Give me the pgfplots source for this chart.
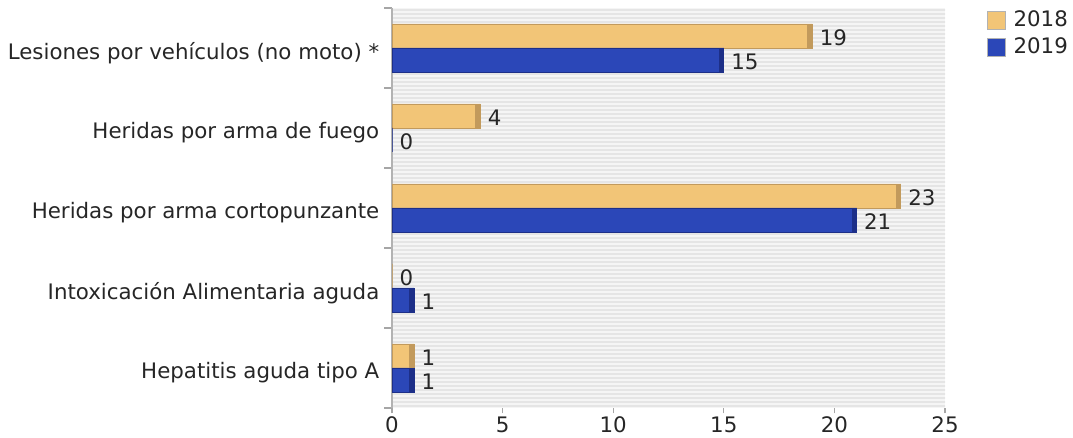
\documentclass[border=0pt]{standalone}
\usepackage{pgfplots}
\pgfplotsset{compat=1.18}
\usepackage{fontspec}
\setmainfont{DejaVu Sans}
\usetikzlibrary{patterns.meta}
\definecolor{cy}{HTML}{F2C577}
\definecolor{cyd}{HTML}{C29A5C}
\definecolor{cb}{HTML}{2B47B8}
\definecolor{cbd}{HTML}{1D2F88}
\begin{document}
\fontsize{16pt}{19pt}\selectfont
\begin{tikzpicture}[x=1pt,y=1pt]
\path[use as bounding box] (0,0) rectangle (804.75,328.5);
\begin{axis}[
  at={(294pt,22.5pt)}, anchor=south west,
  scale only axis, width=414.75pt, height=300pt,
  xmin=0, xmax=25, ymin=-0.5, ymax=4.5,
  /pgf/number format/assume math mode=true,
  font=\fontsize{16pt}{19pt}\selectfont,
  axis x line*=bottom, axis y line*=left,
  x axis line style={draw=none},
  y axis line style={draw=black!30, line width=2.2pt},
  xtick={0,5,10,15,20,25},
  xtick align=outside,
  major tick length=4pt,
  x tick style={draw=black!35, line width=0.8pt},
  xticklabel style={yshift=3pt, text=black!85},
  ytick={0,1,2,3,4},
  yticklabels={Hepatitis aguda tipo A, Intoxicación Alimentaria aguda, Heridas por arma cortopunzante, Heridas por arma de fuego, Lesiones por vehículos (no moto) *},
  y tick style={draw=none},
  yticklabel style={xshift=0pt, yshift=-3.75pt, text=black!85},
  minor ytick={-0.5,0.5,1.5,2.5,3.5,4.5},
  minor y tick style={draw=black!35, line width=0.8pt},
  minor tick length=6pt,
  ytick align=outside,
  axis background/.style={fill=black!4, postaction={pattern={Lines[angle=0,distance=3pt,line width=1.1pt]}, pattern color=black!10}},
  bar width=18pt,
  legend style={at={(1.076,1.0)}, anchor=north west, draw=none, fill=none, inner sep=0pt,
    row sep=2pt, font=\fontsize{16pt}{19pt}\selectfont, text=black!85,
    /tikz/every even column/.append style={column sep=0pt}},
  legend cell align=left,
  legend image code/.code={\draw[#1, draw=black!30, line width=0.8pt] (0pt,-6.5pt) rectangle (13pt,6.5pt); \path (17pt,0pt);},
]
\addplot[xbar, bar shift=9pt, fill=cy, draw=cyd, line width=0.6pt,
  point meta=x, nodes near coords,
  every node near coord/.append style={anchor=west, xshift=0pt, yshift=7.5pt, text=black!85, font=\fontsize{16pt}{19pt}\selectfont}]
  coordinates {(1,0) (0,1) (23,2) (4,3) (19,4)};
\addlegendentry{2018}
\addplot[xbar, bar shift=-9pt, fill=cb, draw=cbd, line width=0.6pt,
  point meta=x, nodes near coords,
  every node near coord/.append style={anchor=west, xshift=0pt, yshift=-10.5pt, text=black!85, font=\fontsize{16pt}{19pt}\selectfont}]
  coordinates {(1,0) (1,1) (21,2) (0,3) (15,4)};
\addlegendentry{2019}
\addplot[forget plot, only marks, mark=|, mark size=9pt, mark options={line width=3.75pt, draw=cyd}] coordinates {(0.887,0.15) (22.887,2.15) (3.887,3.15) (18.887,4.15)};
\addplot[forget plot, only marks, mark=|, mark size=9pt, mark options={line width=3.75pt, draw=cbd}] coordinates {(0.887,-0.15) (0.887,0.85) (20.887,1.85) (14.887,3.85)};
\end{axis}
\end{tikzpicture}
\end{document}
